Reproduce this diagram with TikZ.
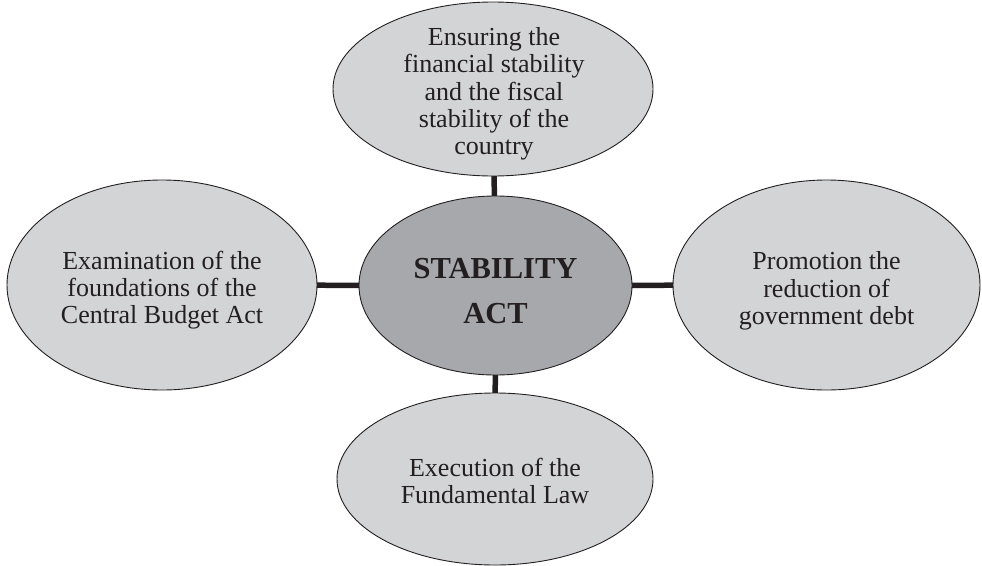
\documentclass[tikz,border=0pt]{standalone}
\usepackage{fontspec}
\setmainfont{Liberation Serif}
\usetikzlibrary{shapes.geometric,backgrounds}
\definecolor{outerfill}{RGB}{211,212,214}
\definecolor{innerfill}{RGB}{167,168,172}
\definecolor{ink}{RGB}{35,31,32}
\tikzset{
  outer/.style={ellipse, draw=ink, line width=0.9pt, fill=outerfill, inner sep=0pt},
  inner/.style={ellipse, draw=ink, line width=0.9pt, fill=innerfill, inner sep=0pt},
  outertext/.style={inner sep=0pt, align=center, text=ink, font=\fontsize{26}{27.3}\selectfont},
  innertext/.style={inner sep=0pt, align=center, text=ink, font=\fontsize{30.5}{45}\selectfont\bfseries},
  conn/.style={draw=ink, line width=5.5pt}
}
\begin{document}
\begin{tikzpicture}[x=1pt,y=-1pt]
\useasboundingbox (0,0) rectangle (982,565);
\node[inner, minimum width=273pt, minimum height=179pt] (ctr) at (495.5,285.5) {};
\node[outer, minimum width=320pt, minimum height=174pt] (top) at (493,89) {};
\node[outer, minimum width=310pt, minimum height=210pt] (left) at (162,285) {};
\node[outer, minimum width=307pt, minimum height=210pt] (right) at (826.5,285) {};
\node[outer, minimum width=316pt, minimum height=172pt] (bot) at (495,479) {};
\node[innertext] (ctrtext) at (495.5,291) {STABILITY\\ACT};
\node[outertext] (toptext) at (494,94) {Ensuring the\\financial stability\\and the fiscal\\stability of the\\country};
\node[outertext] (lefttext) at (162,290) {Examination of the\\foundations of the\\Central Budget Act};
\node[outertext] (righttext) at (826.5,291) {Promotion the\\reduction of\\government debt};
\node[outertext] (bottext) at (495,481) {Execution of the\\Fundamental Law};
\begin{scope}[on background layer]
\draw[conn] (ctr.center) -- (top.center);
\draw[conn] (ctr.center) -- (left.center);
\draw[conn] (ctr.center) -- (right.center);
\draw[conn] (ctr.center) -- (bot.center);
\end{scope}
\end{tikzpicture}
\end{document}
